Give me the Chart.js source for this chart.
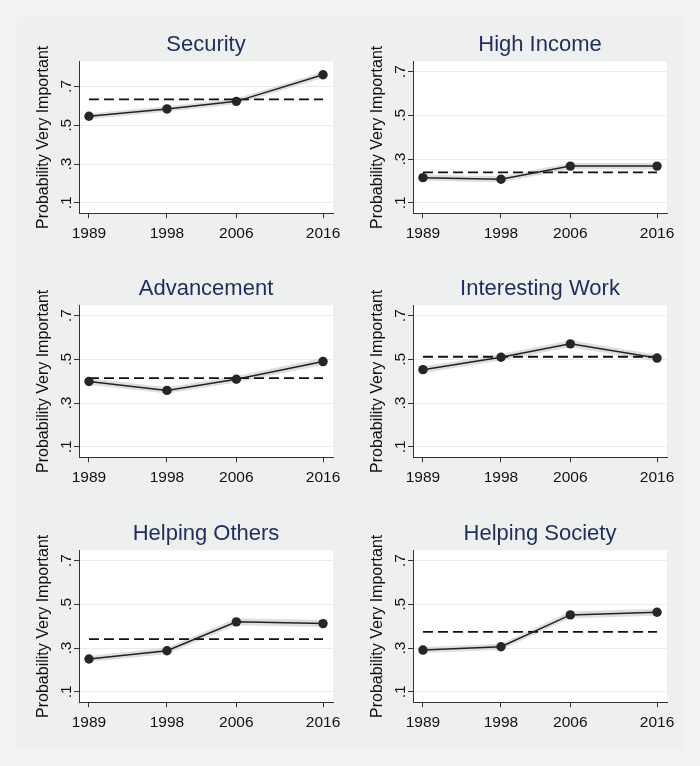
<!DOCTYPE html>
<html>
<head>
<meta charset="utf-8">
<script src="https://cdn.jsdelivr.net/npm/chart.js@4/dist/chart.umd.min.js"></script>
<style>
  html, body { margin: 0; padding: 0; }
  body { width: 700px; height: 766px; background: #f1f2f2; position: relative; overflow: hidden; }
  #inner { position: absolute; left: 17px; top: 17px; width: 666px; height: 732px; background: #eef0f0; }
  canvas { position: absolute; }
</style>
</head>
<body>
<div id="inner"></div>
<canvas id="c0" width="350" height="244" style="left:0px;top:0px"></canvas>
<canvas id="c1" width="350" height="244" style="left:334px;top:0px"></canvas>
<canvas id="c2" width="350" height="244" style="left:0px;top:244px"></canvas>
<canvas id="c3" width="350" height="244" style="left:334px;top:244px"></canvas>
<canvas id="c4" width="350" height="244" style="left:0px;top:489px"></canvas>
<canvas id="c5" width="350" height="244" style="left:334px;top:489px"></canvas>
<script>
// ---- Data ----
const years = [1989, 1998, 2006, 2016];
const yTicks = [0.1, 0.3, 0.5, 0.7];
const yTickLabels = ['.1', '.3', '.5', '.7'];
const yAxisTitle = 'Probability Very Important';

const titles = ['Security', 'High Income', 'Advancement', 'Interesting Work', 'Helping Others', 'Helping Society'];

const security        = [0.546, 0.584, 0.623, 0.760];
const securityLow     = [0.531, 0.570, 0.608, 0.744];
const securityHigh    = [0.561, 0.598, 0.638, 0.776];
const securityMean    = 0.633;

const highIncome      = [0.215, 0.208, 0.268, 0.268];
const highIncomeLow   = [0.201, 0.194, 0.254, 0.254];
const highIncomeHigh  = [0.229, 0.222, 0.282, 0.282];
const highIncomeMean  = 0.239;

const advancement     = [0.399, 0.358, 0.409, 0.490];
const advancementLow  = [0.384, 0.344, 0.394, 0.474];
const advancementHigh = [0.414, 0.372, 0.424, 0.506];
const advancementMean = 0.414;

const interesting     = [0.453, 0.510, 0.571, 0.506];
const interestingLow  = [0.438, 0.495, 0.555, 0.491];
const interestingHigh = [0.468, 0.525, 0.587, 0.521];
const interestingMean = 0.512;

const helpOthers      = [0.250, 0.288, 0.420, 0.412];
const helpOthersLow   = [0.236, 0.273, 0.404, 0.396];
const helpOthersHigh  = [0.264, 0.303, 0.436, 0.428];
const helpOthersMean  = 0.341;

const helpSociety     = [0.291, 0.306, 0.452, 0.464];
const helpSocietyLow  = [0.277, 0.292, 0.436, 0.448];
const helpSocietyHigh = [0.305, 0.320, 0.468, 0.480];
const helpSocietyMean = 0.374;

// y ranges per panel (Stata expands the first panel for its higher values)
const yMins = [0.046, 0.052, 0.052, 0.052, 0.052, 0.052];
const yMaxs = [0.829, 0.747, 0.747, 0.747, 0.747, 0.747];
const xMin = 1987.85, xMax = 2017.15;

const panels = [
  { values: security,    low: securityLow,    high: securityHigh,    mean: securityMean },
  { values: highIncome,  low: highIncomeLow,  high: highIncomeHigh,  mean: highIncomeMean },
  { values: advancement, low: advancementLow, high: advancementHigh, mean: advancementMean },
  { values: interesting, low: interestingLow, high: interestingHigh, mean: interestingMean },
  { values: helpOthers,  low: helpOthersLow,  high: helpOthersHigh,  mean: helpOthersMean },
  { values: helpSociety, low: helpSocietyLow, high: helpSocietyHigh, mean: helpSocietyMean }
];

const FONT = '"Liberation Sans", Arial, Helvetica, sans-serif';
const toXY = arr => years.map((yr, i) => ({ x: yr, y: arr[i] }));

const plotBg = {
  id: 'plotBg',
  beforeDraw(chart) {
    const { ctx, chartArea: a } = chart;
    ctx.save();
    ctx.fillStyle = '#ffffff';
    ctx.fillRect(a.left, a.top, a.right - a.left, a.bottom - a.top);
    ctx.restore();
  }
};

panels.forEach((p, idx) => {
  const ctx = document.getElementById('c' + idx);
  new Chart(ctx, {
    type: 'line',
    data: {
      datasets: [
        { data: toXY(p.low), borderWidth: 0, borderColor: 'rgba(0,0,0,0)', pointRadius: 0, fill: false, order: 3, tension: 0 },
        { data: toXY(p.high), borderWidth: 0, borderColor: 'rgba(0,0,0,0)', pointRadius: 0, fill: '-1', backgroundColor: 'rgba(200,200,200,0.6)', order: 3, tension: 0 },
        { data: [{ x: years[0], y: p.mean }, { x: years[years.length - 1], y: p.mean }], borderColor: '#111', borderWidth: 1.8, borderDash: [10, 5], pointRadius: 0, fill: false, order: 1 },
        { data: toXY(p.values), borderColor: '#222', borderWidth: 1.5, pointRadius: 4.7, pointBackgroundColor: '#262626', pointBorderColor: '#262626', pointBorderWidth: 0, fill: false, order: 0, tension: 0 }
      ]
    },
    options: {
      responsive: false,
      animation: false,
      devicePixelRatio: 1,
      events: [],
      layout: { padding: { left: 0, right: 17, top: 0, bottom: 0 } },
      plugins: {
        legend: { display: false },
        tooltip: { enabled: false },
        title: {
          display: true,
          fullSize: false,
          text: titles[idx],
          color: '#1f2d5c',
          font: { family: FONT, size: 22, weight: 'normal' },
          padding: { top: 32, bottom: 3 }
        }
      },
      scales: {
        x: {
          type: 'linear',
          min: xMin,
          max: xMax,
          afterBuildTicks: s => { s.ticks = years.map(v => ({ value: v })); },
          afterFit: s => { s.height = 30.7; },
          ticks: {
            color: '#111',
            font: { family: FONT, size: 15.5 },
            padding: 6,
            maxRotation: 0,
            callback: v => String(v)
          },
          grid: { color: 'rgba(0,0,0,0)', drawOnChartArea: false, drawTicks: true, tickLength: 5, tickColor: '#333', tickWidth: 1 },
          border: { display: true, color: '#333', width: 1 }
        },
        y: {
          type: 'linear',
          min: yMins[idx],
          max: yMaxs[idx],
          afterBuildTicks: s => { s.ticks = yTicks.map(v => ({ value: v })); },
          afterFit: s => { s.width = 79; },
          ticks: {
            color: '#111',
            font: { family: FONT, size: 15.5 },
            padding: 1,
            minRotation: 90,
            maxRotation: 90,
            crossAlign: 'center',
            callback: v => yTickLabels[yTicks.findIndex(t => Math.abs(t - v) < 1e-9)]
          },
          grid: { color: '#e4ecef', lineWidth: 1, drawTicks: true, tickLength: 5, tickColor: '#333', tickWidth: 1 },
          border: { display: true, color: '#333', width: 1 },
          title: {
            display: true,
            text: yAxisTitle,
            color: '#111',
            font: { family: FONT, size: 16 },
            padding: { top: 34, bottom: 0 }
          }
        }
      }
    },
    plugins: [plotBg]
  });
});
</script>
</body>
</html>
